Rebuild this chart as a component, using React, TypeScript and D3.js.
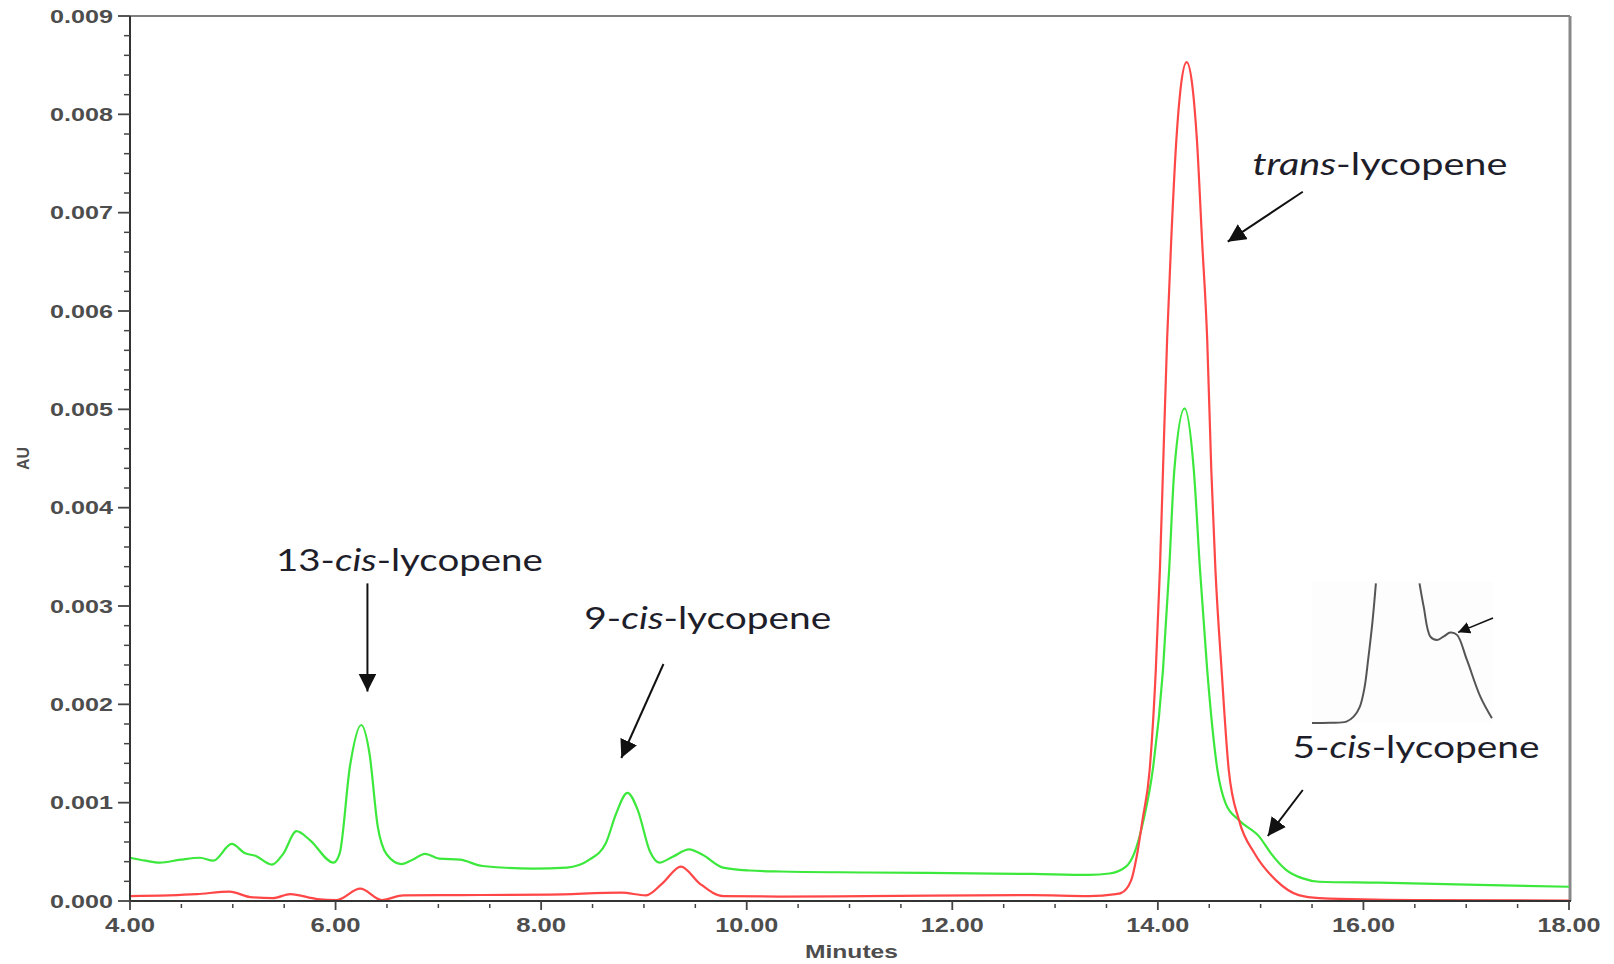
import * as d3 from 'd3';

// retention time (min) and absorbance (AU)
const greenT = [4.0, 4.15, 4.29, 4.49, 4.68, 4.81, 4.99, 5.12, 5.22, 5.38, 5.49, 5.62, 5.75, 5.98, 6.04, 6.14, 6.25, 6.33, 6.41, 6.5, 6.64, 6.75, 6.87, 7.01, 7.21, 7.43, 7.92, 8.25, 8.47, 8.63, 8.73, 8.84, 8.94, 9.06, 9.15, 9.28, 9.44, 9.57, 9.77, 10.03, 10.32, 11.16, 12.78, 13.33, 13.53, 13.69, 13.77, 13.86, 13.95, 14.05, 14.11, 14.16, 14.26, 14.35, 14.41, 14.48, 14.58, 14.66, 14.79, 14.99, 15.1, 15.25, 15.41, 15.57, 16.15, 17.12, 18.0];
const greenV = [0.00044, 0.00041, 0.00039, 0.00042, 0.00044, 0.00041, 0.00058, 0.000485, 0.00046, 0.00037, 0.00048, 0.00071, 0.00062, 0.00039, 0.000485, 0.00137, 0.00179, 0.0015, 0.00076, 0.00047, 0.000376, 0.00042, 0.00048, 0.00043, 0.00042, 0.000356, 0.00033, 0.00034, 0.00042, 0.00059, 0.00089, 0.0011, 0.000925, 0.0005, 0.00039, 0.00045, 0.000525, 0.00047, 0.00034, 0.00031, 0.0003, 0.00029, 0.000275, 0.000265, 0.00028, 0.00035, 0.000485, 0.00082, 0.00133, 0.00235, 0.00337, 0.00438, 0.00501, 0.00438, 0.00337, 0.00235, 0.00133, 0.00099, 0.00082, 0.00065, 0.000485, 0.000315, 0.00023, 0.000196, 0.000186, 0.000163, 0.000145];

const redT = [4.0, 4.65, 4.97, 5.17, 5.39, 5.56, 5.82, 6.01, 6.24, 6.45, 6.66, 7.21, 8.08, 8.78, 9.02, 9.18, 9.36, 9.54, 9.77, 10.32, 11.16, 12.78, 13.33, 13.59, 13.64, 13.74, 13.8, 13.85, 13.92, 13.98, 14.02, 14.05, 14.09, 14.13, 14.18, 14.22, 14.28, 14.34, 14.38, 14.43, 14.48, 14.52, 14.56, 14.62, 14.69, 14.79, 14.94, 15.15, 15.37, 15.57, 16.5, 18.0];
const redV = [0.00005, 0.00007, 0.000095, 0.00004, 0.00003, 0.00007, 0.00002, 0.00001, 0.000125, 0.00001, 0.000058, 0.00006, 0.000065, 0.000085, 0.000058, 0.00018, 0.00035, 0.00018, 0.00005, 0.000045, 0.00005, 0.00006, 0.00005, 0.00007, 0.00008, 0.00021, 0.000485, 0.00082, 0.00133, 0.00235, 0.00337, 0.00438, 0.00571, 0.00672, 0.00774, 0.00825, 0.00853, 0.00825, 0.00774, 0.00672, 0.00571, 0.00438, 0.00337, 0.00235, 0.00133, 0.00082, 0.000485, 0.00021, 0.00006, 0.00003, 0.00001, 0.000005];

// inset (zoom on the trans peak tail), relative units 0..100
const insetLeftX = [0, 10, 19, 23, 26.4, 29, 31, 33.5, 35.3];
const insetLeftY = [0, 0.2, 1, 4.5, 11.5, 25, 44.7, 73, 99];
const insetRightX = [59.4, 61.7, 65.4, 69.1, 73.1, 76.4, 80.1, 85.6, 93, 99.4];
const insetRightY = [99, 82.5, 61.3, 58.9, 61.7, 64.1, 62.5, 44.7, 18.7, 3.4];

const xMajor = [4, 6, 8, 10, 12, 14, 16, 18];
const yMajor = [0, 0.001, 0.002, 0.003, 0.004, 0.005, 0.006, 0.007, 0.008, 0.009];

// annotation labels: [prefix, italic, suffix], anchor (t, AU), width
const labels = [
  { pre: '13-', it: 'cis', post: '-lycopene', t: 5.42, v: 0.003356, w: 267 },
  { pre: '9-', it: 'cis', post: '-lycopene', t: 8.42, v: 0.002766, w: 247 },
  { pre: '', it: 'trans', post: '-lycopene', t: 14.92, v: 0.007383, w: 255 },
  { pre: '5-', it: 'cis', post: '-lycopene', t: 15.31, v: 0.001454, w: 247 },
];
const arrows = [
  { t0: 6.31, v0: 0.00323, t1: 6.31, v1: 0.00213 },
  { t0: 9.19, v0: 0.00241, t1: 8.78, v1: 0.001454 },
  { t0: 15.41, v0: 0.007213, t1: 14.68, v1: 0.006705 },
  { t0: 15.41, v0: 0.001129, t1: 15.07, v1: 0.000661 },
];

const W = 1614;
const H = 964;
const m = { left: 130, right: 45, top: 16, bottom: 63 };

export default function App() {
  const x = d3.scaleLinear().domain([4, 18]).range([m.left, W - m.right]);
  const y = d3.scaleLinear().domain([0, 0.009]).range([H - m.bottom, m.top]);
  const x0 = m.left, x1 = W - m.right, y0 = H - m.bottom, y1 = m.top;

  const greenPath = d3.line<number>()
    .x((_, i) => x(greenT[i]))
    .y((d) => y(d))
    .curve(d3.curveMonotoneX)(greenV);
  const redPath = d3.line<number>()
    .x((_, i) => x(redT[i]))
    .y((d) => y(d))
    .curve(d3.curveMonotoneX)(redV);

  const xMinor = d3.range(4, 18.001, 0.5).filter((t) => Math.abs(t % 2) > 0.01);
  const yMinor = d3.range(0, 0.00901, 0.0002).filter((v) => Math.abs(v / 0.001 - Math.round(v / 0.001)) > 0.01);

  // inset scales
  const ix = d3.scaleLinear().domain([0, 100]).range([1312, 1493]);
  const iy = d3.scaleLinear().domain([0, 100]).range([723, 582]);
  const leftPath = d3.line<number>().x((_, i) => ix(insetLeftX[i])).y((d) => iy(d)).curve(d3.curveCatmullRom)(insetLeftY);
  const rightPath = d3.line<number>().x((_, i) => ix(insetRightX[i])).y((d) => iy(d)).curve(d3.curveCatmullRom)(insetRightY);

  const fmtX = d3.format('.2f');
  const fmtY = d3.format('.3f');
  const tickFont = '"Liberation Sans", Arial, sans-serif';
  const labelFont = 'Lato, "Open Sans", sans-serif';

  return (
    <svg width={W} height={H} style={{ position: 'absolute', left: 0, top: 0, display: 'block', background: '#fff' }}>
      <defs>
        <marker id="ah" markerUnits="userSpaceOnUse" markerWidth={20} markerHeight={18} refX={18} refY={9} orient="auto">
          <path d="M0,0 L18,9 L0,18 Z" fill="#111" />
        </marker>
        <marker id="ahs" markerUnits="userSpaceOnUse" markerWidth={14} markerHeight={12} refX={12} refY={6} orient="auto">
          <path d="M0,0 L12,6 L0,12 Z" fill="#111" />
        </marker>
      </defs>
      <rect width={W} height={H} fill="#fff" />

      {/* frame */}
      <line x1={x0} x2={x1 + 1} y1={y1} y2={y1} stroke="#555" strokeWidth={1.5} />
      <line x1={x1 + 1} x2={x1 + 1} y1={y1} y2={y0} stroke="#888" strokeWidth={3} />

      {/* inset */}
      <rect x={ix(0)} y={iy(100)} width={ix(100) - ix(0)} height={iy(0) - iy(100)} fill="#fdfdfd" />
      <path d={leftPath ?? ''} fill="none" stroke="#555" strokeWidth={2} />
      <path d={rightPath ?? ''} fill="none" stroke="#555" strokeWidth={2} />
      <line x1={ix(100)} y1={iy(74.5)} x2={ix(80.7)} y2={iy(64.3)} stroke="#111" strokeWidth={1.5} markerEnd="url(#ahs)" />

      {/* traces */}
      <path d={greenPath ?? ''} fill="none" stroke="#3be83b" strokeWidth={2.2} strokeLinejoin="round" />
      <path d={redPath ?? ''} fill="none" stroke="#ff4747" strokeWidth={2.2} strokeLinejoin="round" />

      {/* axes */}
      <line x1={x0} x2={x0} y1={y1} y2={y0} stroke="#333" strokeWidth={2} />
      <line x1={x0} x2={x1 + 2} y1={y0} y2={y0} stroke="#333" strokeWidth={2} />
      {yMajor.map((v) => (
        <g key={'ym' + v}>
          <line x1={x0 - 12} x2={x0} y1={y(v)} y2={y(v)} stroke="#444" strokeWidth={1.8} />
          <text x={x0 - 17} y={y(v) + 6.5} textAnchor="end" fontFamily={tickFont} fontWeight="bold" fontSize={18} fill="#4d4d4d" textLength={63} lengthAdjust="spacingAndGlyphs">
            {fmtY(v)}
          </text>
        </g>
      ))}
      {yMinor.map((v) => (
        <line key={'yn' + v} x1={x0 - 6} x2={x0} y1={y(v)} y2={y(v)} stroke="#444" strokeWidth={1.5} />
      ))}
      {xMajor.map((t) => (
        <g key={'xm' + t}>
          <line x1={x(t)} x2={x(t)} y1={y0} y2={y0 + 9} stroke="#444" strokeWidth={1.8} />
          <text x={x(t)} y={y0 + 31} textAnchor="middle" fontFamily={tickFont} fontWeight="bold" fontSize={20} fill="#4d4d4d" textLength={t >= 10 ? 63 : 50} lengthAdjust="spacingAndGlyphs">
            {fmtX(t)}
          </text>
        </g>
      ))}
      {xMinor.map((t) => (
        <line key={'xn' + t} x1={x(t)} x2={x(t)} y1={y0 + 3} y2={y0 + 7} stroke="#444" strokeWidth={1.5} />
      ))}

      <text x={(x0 + x1) / 2 + 2} y={958} textAnchor="middle" fontFamily={tickFont} fontWeight="bold" fontSize={18} fill="#4d4d4d" textLength={93} lengthAdjust="spacingAndGlyphs">
        Minutes
      </text>
      <text transform={`translate(29,${(y0 + y1) / 2}) rotate(-90)`} textAnchor="middle" fontFamily={tickFont} fontWeight="bold" fontSize={16} fill="#4d4d4d" textLength={23} lengthAdjust="spacingAndGlyphs">
        AU
      </text>

      {/* annotations */}
      {arrows.map((a, i) => (
        <line key={'ar' + i} x1={x(a.t0)} y1={y(a.v0)} x2={x(a.t1)} y2={y(a.v1)} stroke="#111" strokeWidth={2} markerEnd="url(#ah)" />
      ))}
      {labels.map((l, i) => (
        <text key={'lb' + i} x={x(l.t)} y={y(l.v)} fontFamily={labelFont} fontSize={30} fill="#1e1e2a" textLength={l.w} lengthAdjust="spacingAndGlyphs">
          {l.pre}
          <tspan fontStyle="italic">{l.it}</tspan>
          {l.post}
        </text>
      ))}
    </svg>
  );
}
